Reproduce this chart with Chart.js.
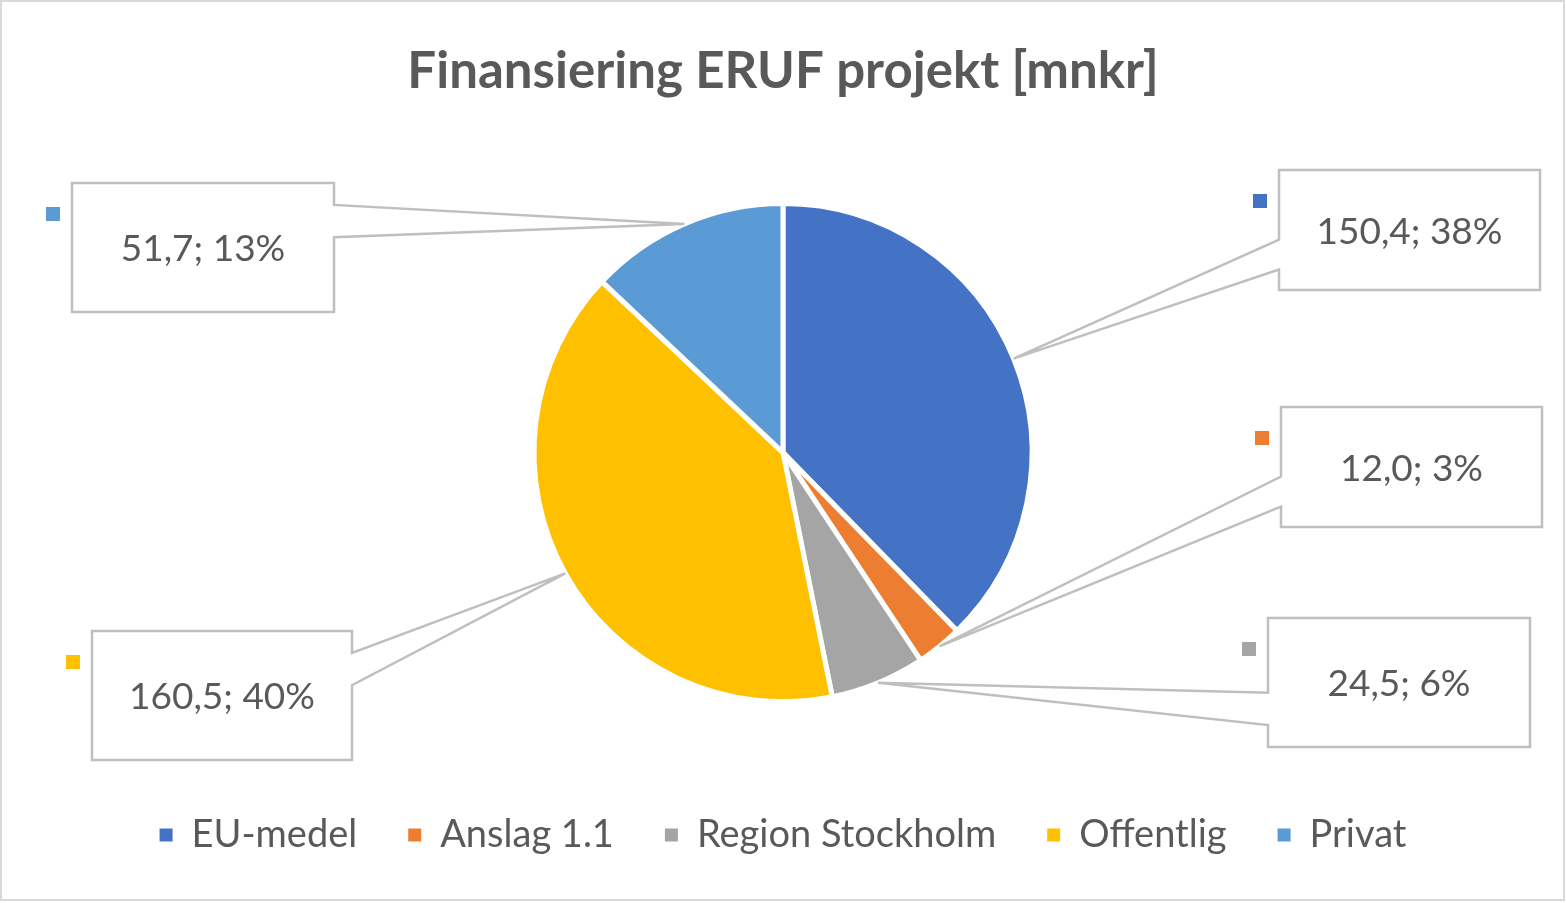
<!DOCTYPE html>
<html>
<head>
<meta charset="utf-8">
<script src="https://cdn.jsdelivr.net/npm/chart.js@4/dist/chart.umd.min.js"></script>
<style>
  html, body { margin: 0; padding: 0; background: #fff; }
  #wrap { width: 1566px; height: 903px; position: relative; }
</style>
</head>
<body>
<div id="wrap"><canvas id="c" width="1566" height="903"></canvas></div>
<script>
// ---- data ----
const chartTitle = 'Finansiering ERUF projekt [mnkr]';
const categories = ['EU-medel', 'Anslag 1.1', 'Region Stockholm', 'Offentlig', 'Privat'];
const values = [150.4, 12.0, 24.5, 160.5, 51.7];
const colors = ['#4472C4', '#ED7D31', '#A5A5A5', '#FFC000', '#5B9BD5'];

// ---- layout of callout boxes (x, y, w, h) ----
const calloutLayout = [
  { x: 1279, y: 170, w: 261, h: 120 },
  { x: 1281, y: 407, w: 261, h: 120 },
  { x: 1268, y: 618, w: 262, h: 129 },
  { x: 92,   y: 631, w: 260, h: 129 },
  { x: 72,   y: 183, w: 262, h: 129 }
];

const textColor = '#595959';
const fontFamily = 'Lato, "Open Sans", sans-serif';

const total = values.reduce((a, b) => a + b, 0);
function fmtLabel(v) {
  const pct = Math.round(v / total * 100);
  return v.toFixed(1).replace('.', ',') + '; ' + pct + '%';
}

const frame = {
  id: 'frame',
  beforeDraw(chart) {
    const ctx = chart.ctx;
    ctx.save();
    ctx.fillStyle = '#fff';
    ctx.fillRect(0, 0, chart.width, chart.height);
    ctx.strokeStyle = '#d9d9d9';
    ctx.lineWidth = 2;
    ctx.strokeRect(1, 1, chart.width - 3, chart.height - 4);
    ctx.restore();
  }
};

const callouts = {
  id: 'callouts',
  afterDatasetsDraw(chart) {
    const ctx = chart.ctx;
    const meta = chart.getDatasetMeta(0);
    ctx.save();
    meta.data.forEach((arc, i) => {
      const b = calloutLayout[i];
      const mid = (arc.startAngle + arc.endAngle) / 2;
      const r = arc.outerRadius;
      const tx = arc.x + Math.cos(mid) * r;
      const ty = arc.y + Math.sin(mid) * r;
      const below = ty > b.y + b.h * 0.4;
      const b1 = b.y + b.h * (below ? 0.58 : 0.17);
      const b2 = b.y + b.h * (below ? 0.83 : 0.42);
      const leftSide = tx < b.x;
      ctx.beginPath();
      if (leftSide) {
        ctx.moveTo(b.x, b.y);
        ctx.lineTo(b.x + b.w, b.y);
        ctx.lineTo(b.x + b.w, b.y + b.h);
        ctx.lineTo(b.x, b.y + b.h);
        ctx.lineTo(b.x, b2);
        ctx.lineTo(tx, ty);
        ctx.lineTo(b.x, b1);
        ctx.closePath();
      } else {
        const rx = b.x + b.w;
        ctx.moveTo(b.x, b.y);
        ctx.lineTo(rx, b.y);
        ctx.lineTo(rx, b1);
        ctx.lineTo(tx, ty);
        ctx.lineTo(rx, b2);
        ctx.lineTo(rx, b.y + b.h);
        ctx.lineTo(b.x, b.y + b.h);
        ctx.closePath();
      }
      ctx.fillStyle = '#fff';
      ctx.fill();
      ctx.strokeStyle = '#bfbfbf';
      ctx.lineWidth = 2.5;
      ctx.lineJoin = 'miter';
      ctx.stroke();

      // marker square
      ctx.fillStyle = colors[i];
      ctx.fillRect(b.x - 26, b.y + 24, 14, 14);

      // text
      ctx.fillStyle = textColor;
      ctx.font = '37px ' + fontFamily;
      ctx.textAlign = 'center';
      ctx.textBaseline = 'middle';
      ctx.fillText(fmtLabel(values[i]), b.x + b.w / 2, b.y + b.h / 2 + 2);
    });
    ctx.restore();
  }
};

new Chart(document.getElementById('c'), {
  type: 'pie',
  data: {
    labels: categories,
    datasets: [{
      data: values,
      backgroundColor: colors,
      borderColor: '#ffffff',
      borderWidth: 5
    }]
  },
  options: {
    responsive: false,
    animation: false,
    events: [],
    radius: 249,
    layout: { padding: { top: 0, bottom: 39, left: 0, right: 0 } },
    plugins: {
      title: {
        display: true,
        text: chartTitle,
        color: textColor,
        font: { family: fontFamily, size: 51, weight: 'bold' },
        padding: { top: 41, bottom: 38 }
      },
      legend: {
        display: true,
        position: 'bottom',
        labels: {
          color: textColor,
          font: { family: fontFamily, size: 38 },
          boxWidth: 13,
          boxHeight: 13,
          padding: 51,
          generateLabels(chart) {
            const items = Chart.controllers.pie.overrides.plugins.legend.labels.generateLabels(chart);
            return items.map(it => Object.assign(it, { lineWidth: 0, strokeStyle: it.fillStyle }));
          }
        }
      },
      tooltip: { enabled: false }
    }
  },
  plugins: [frame, callouts]
});
</script>
</body>
</html>
